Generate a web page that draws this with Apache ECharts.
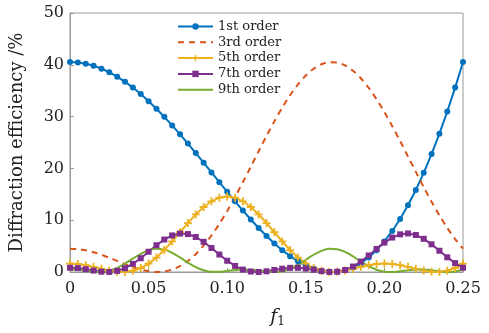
<!DOCTYPE html>
<html>
<head>
<meta charset="utf-8">
<script src="https://cdn.jsdelivr.net/npm/echarts@6/dist/echarts.min.js"></script>
<style>
html,body{margin:0;padding:0;background:#fff;}
#chart{width:489px;height:333px;}
</style>
</head>
<body>
<div id="chart"></div>
<script>
var f1 = [0,0.005,0.01,0.015,0.02,0.025,0.03,0.035,0.04,0.045,0.05,0.055,0.06,0.065,0.07,0.075,0.08,0.085,0.09,0.095,0.1,0.105,0.11,0.115,0.12,0.125,0.13,0.135,0.14,0.145,0.15,0.155,0.16,0.165,0.17,0.175,0.18,0.185,0.19,0.195,0.2,0.205,0.21,0.215,0.22,0.225,0.23,0.235,0.24,0.245,0.25];
var order1 = [40.53,40.45,40.21,39.81,39.26,38.56,37.71,36.72,35.60,34.35,32.98,31.51,29.95,28.29,26.57,24.79,22.96,21.10,19.22,17.34,15.48,13.65,11.86,10.14,8.50,6.95,5.52,4.22,3.06,2.07,1.25,0.62,0.21,0.01,0.05,0.34,0.89,1.71,2.82,4.22,5.91,7.92,10.24,12.88,15.84,19.14,22.76,26.71,30.99,35.60,40.53];
var order3 = [4.50,4.42,4.19,3.82,3.33,2.75,2.14,1.52,0.94,0.47,0.14,0.00,0.10,0.47,1.14,2.13,3.44,5.09,7.04,9.29,11.79,14.50,17.36,20.32,23.30,26.25,29.08,31.72,34.12,36.21,37.93,39.24,40.10,40.50,40.42,39.87,38.85,37.40,35.55,33.35,30.87,28.15,25.28,22.31,19.33,16.39,13.58,10.93,8.51,6.36,4.50];
var order5 = [1.62,1.54,1.32,0.99,0.62,0.28,0.05,0.01,0.24,0.77,1.62,2.79,4.24,5.90,7.67,9.45,11.11,12.55,13.65,14.35,14.59,14.35,13.65,12.55,11.11,9.45,7.67,5.90,4.24,2.79,1.62,0.77,0.24,0.01,0.05,0.28,0.62,0.99,1.32,1.54,1.62,1.54,1.32,0.99,0.62,0.28,0.05,0.01,0.24,0.77,1.62];
var order7 = [0.83,0.75,0.54,0.28,0.06,0.01,0.21,0.73,1.56,2.66,3.91,5.17,6.27,7.06,7.42,7.32,6.76,5.83,4.64,3.37,2.17,1.17,0.46,0.09,0.00,0.14,0.39,0.64,0.80,0.81,0.67,0.43,0.17,0.01,0.06,0.39,1.05,2.01,3.19,4.46,5.67,6.65,7.27,7.44,7.14,6.40,5.34,4.10,2.84,1.71,0.83];
var order9 = [0.50,0.42,0.24,0.05,0.01,0.24,0.78,1.61,2.59,3.52,4.21,4.50,4.32,3.71,2.81,1.82,0.95,0.33,0.03,0.03,0.19,0.39,0.50,0.45,0.28,0.09,0.00,0.16,0.63,1.41,2.37,3.33,4.09,4.48,4.40,3.87,3.02,2.04,1.12,0.44,0.07,0.01,0.15,0.35,0.48,0.48,0.33,0.13,0.00,0.10,0.50];
var seriesNames = ['1st order','3rd order','5th order','7th order','9th order'];
var xTickLabels = ['0','0.05','0.10','0.15','0.20','0.25'];

function pairs(ys){ return f1.map(function(x,i){ return [x, ys[i]]; }); }

var FONT = 'DejaVu Serif';
var plusPath = 'path://M3.1,0H4.9V3.1H8V4.9H4.9V8H3.1V4.9H0V3.1H3.1Z';

var chart = echarts.init(document.getElementById('chart'), null, {renderer:'canvas'});
chart.setOption({
  animation:false,
  backgroundColor:'#fff',
  grid:{left:68, right:26, top:13, bottom:58, show:true, borderColor:'#9a9a9a', borderWidth:1},
  legend:{
    orient:'vertical', left:177, top:20, padding:0,
    itemWidth:35, itemHeight:8, itemGap:2.8,
    textStyle:{fontFamily:FONT, fontSize:13, color:'#222'},
    data:[
      {name:seriesNames[0]},
      {name:seriesNames[1], itemStyle:{opacity:0}},
      {name:seriesNames[2]},
      {name:seriesNames[3]},
      {name:seriesNames[4], itemStyle:{opacity:0}}
    ]
  },
  xAxis:{
    type:'value', min:0, max:0.25, interval:0.05,
    axisLine:{show:true, lineStyle:{color:'#9a9a9a'}},
    axisTick:{show:true, inside:true, length:4, lineStyle:{color:'#9a9a9a'}},
    splitLine:{show:false},
    axisLabel:{margin:9, fontFamily:FONT, fontSize:16, color:'#222',
      formatter:function(v){ return xTickLabels[Math.round(v/0.05)]; }},
    name:'{f|f}{s|1}', nameLocation:'middle', nameGap:34,
    nameTextStyle:{
      padding:[0,0,0,22],
      rich:{
        f:{fontFamily:FONT, fontStyle:'italic', fontSize:19, color:'#222'},
        s:{fontFamily:FONT, fontSize:12, color:'#222', padding:[10,0,0,0]}
      }
    }
  },
  yAxis:{
    type:'value', min:0, max:50, interval:10,
    axisLine:{show:true, lineStyle:{color:'#9a9a9a'}},
    axisTick:{show:true, inside:true, length:4, lineStyle:{color:'#9a9a9a'}},
    splitLine:{show:false},
    axisLabel:{margin:6, fontFamily:FONT, fontSize:16, color:'#222'},
    name:'Diffraction efficiency /%', nameLocation:'middle', nameGap:44, nameRotate:90,
    nameTextStyle:{fontFamily:FONT, fontSize:18, color:'#222'}
  },
  series:[
    {name:seriesNames[0], type:'line', data:pairs(order1), symbol:'circle', symbolSize:6,
      color:'#0072BD', lineStyle:{width:2, color:'#0072BD'}, itemStyle:{color:'#0072BD'}},
    {name:seriesNames[1], type:'line', data:pairs(order3), symbol:'none', smooth:0.3,
      color:'#D95319', lineStyle:{width:2, type:[6,5], color:'#D95319'}, itemStyle:{color:'#D95319'}},
    {name:seriesNames[2], type:'line', data:pairs(order5), symbol:plusPath, symbolSize:8,
      color:'#EDB120', lineStyle:{width:2, color:'#EDB120'}, itemStyle:{color:'#EDB120'}},
    {name:seriesNames[3], type:'line', data:pairs(order7), symbol:'rect', symbolSize:6,
      color:'#7E2F8E', lineStyle:{width:2, color:'#7E2F8E'}, itemStyle:{color:'#7E2F8E'}},
    {name:seriesNames[4], type:'line', data:pairs(order9), symbol:'none', smooth:0.3,
      color:'#77AC30', lineStyle:{width:2, color:'#77AC30'}, itemStyle:{color:'#77AC30'}}
  ]
});
</script>
</body>
</html>
